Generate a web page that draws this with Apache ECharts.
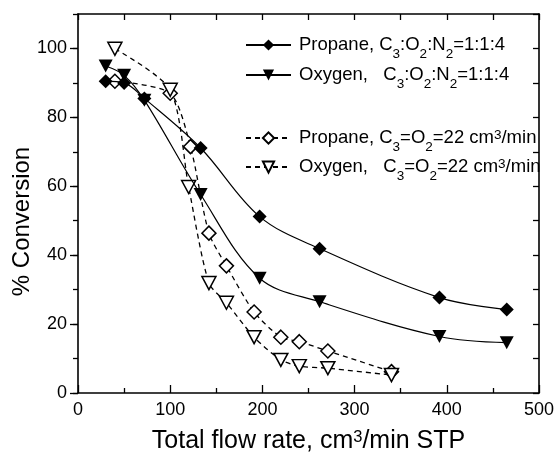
<!DOCTYPE html>
<html>
<head>
<meta charset="utf-8">
<script src="https://cdn.jsdelivr.net/npm/echarts@6/dist/echarts.min.js"></script>
<style>html,body{margin:0;padding:0;background:#fff}#c{width:558px;height:458px}</style>
</head>
<body>
<div id="c"></div>
<script>
// ---- data ----
const propaneN2X = [30, 50, 72, 133, 197, 262, 392, 465];
const propaneN2Y = [90.5, 90, 85.5, 71.1, 51.2, 41.9, 27.7, 24.2];
const oxygenN2X = [30, 50, 72, 133, 197, 262, 392, 465];
const oxygenN2Y = [94.9, 92.2, 85, 57.6, 33.3, 26.5, 16.4, 14.6];
const propane22X = [40, 100, 122, 142, 161, 191, 220, 240, 271, 340];
const propane22Y = [90.5, 87, 71.5, 46.4, 36.9, 23.5, 16.2, 14.9, 12.2, 6.2];
const oxygen22X = [40, 100, 120, 142, 161, 191, 220, 240, 271, 340];
const oxygen22Y = [99.9, 88, 59.8, 31.9, 26.2, 16.2, 9.6, 7.8, 7.2, 5.2];
const xTickLabels = [0, 100, 200, 300, 400, 500];
const yTickLabels = [0, 20, 40, 60, 80, 100];
const seriesNames = ['Propane N2', 'Oxygen N2', 'Propane 22', 'Oxygen 22'];
const legendTexts = [
  '{b0|Propane, C}{s|3}{b|:O}{s|2}{b|:N}{s|2}{b|=1:1:4}',
  '{b0|Oxygen,   C}{s|3}{b|:O}{s|2}{b|:N}{s|2}{b|=1:1:4}',
  '{b0|Propane, C}{s|3}{b|=O}{s|2}{b|=22 cm}{p|3}{b|/min}',
  '{b0|Oxygen,   C}{s|3}{b|=O}{s|2}{b|=22 cm}{p|3}{b|/min}'
];
const legendCenters = [46, 76, 139, 168];
const xTitle = '{t|Total flow rate, cm}{tp|3}{t|/min STP}';
const yTitle = '% Conversion';

const zip = (xs, ys) => xs.map((x, i) => [x, ys[i]]);
const FONT = 'Liberation Sans, Arial, sans-serif';
const chart = echarts.init(document.getElementById('c'), null, {renderer: 'canvas'});

const LH = 34;
const legendRich = {
  b0: {fontSize: 18.5, fontFamily: FONT, color: '#000', lineHeight: LH, padding: [0, 0, 0, 3]},
  b: {fontSize: 18.5, fontFamily: FONT, color: '#000', lineHeight: LH},
  s: {fontSize: 13.5, fontFamily: FONT, color: '#000', lineHeight: LH, padding: [18, 0, 0, 0]},
  p: {fontSize: 13.5, fontFamily: FONT, color: '#000', lineHeight: LH, padding: [0, 0, 6, 0]}
};
const legendFormatter = name => legendTexts[seriesNames.indexOf(name)];
const blk = '#000';

const baseY = {type: 'value', min: 0, max: 110, gridIndex: 0};
const baseX = {type: 'value', min: 0, max: 500, gridIndex: 0};

const option = {
  animation: false,
  backgroundColor: '#fff',
  grid: {left: 78, right: 19, top: 14, bottom: 65, containLabel: false, outerBoundsMode: 'none'},
  xAxis: [
    Object.assign({}, baseX, {
      position: 'bottom', interval: 100,
      axisLine: {show: true, onZero: false, lineStyle: {color: blk, width: 1.6}},
      axisTick: {show: true, inside: true, length: 8, lineStyle: {color: blk, width: 1.3}},
      minorTick: {show: true, splitNumber: 2, length: 5, lineStyle: {color: blk, width: 1.3}},
      splitLine: {show: false},
      axisLabel: {show: true, color: blk, fontSize: 18, fontFamily: FONT, margin: 8,
        formatter: v => (xTickLabels.indexOf(v) >= 0 ? String(v) : '')},
      name: xTitle, nameLocation: 'middle', nameGap: 35, nameMoveOverlap: false,
      nameTextStyle: {rich: {
        t: {fontSize: 25, fontFamily: FONT, color: blk, lineHeight: 27},
        tp: {fontSize: 16.5, fontFamily: FONT, color: blk, lineHeight: 27, padding: [0, 0, 8, 0]}
      }}
    }),
    Object.assign({}, baseX, {
      position: 'top', interval: 50,
      axisLine: {show: true, onZero: false, lineStyle: {color: blk, width: 1.6}},
      axisTick: {show: true, inside: true, length: 6, lineStyle: {color: blk, width: 1.3}},
      axisLabel: {show: false}, splitLine: {show: false}
    })
  ],
  yAxis: [
    Object.assign({}, baseY, {
      position: 'left', interval: 20,
      axisLine: {show: true, onZero: false, lineStyle: {color: blk, width: 1.6}},
      axisTick: {show: true, inside: false, length: 8, lineStyle: {color: blk, width: 1.3}},
      splitLine: {show: false},
      axisLabel: {show: true, color: blk, fontSize: 18, fontFamily: FONT, margin: 11, showMaxLabel: false,
        formatter: v => (yTickLabels.indexOf(v) >= 0 ? String(v) : '')},
      name: yTitle, nameLocation: 'middle', nameGap: 44, nameRotate: 90, nameMoveOverlap: false,
      nameTextStyle: {fontSize: 24, fontFamily: FONT, color: blk, padding: [0, 36, 0, 0]}
    }),
    Object.assign({}, baseY, {
      position: 'left', interval: 10,
      axisLine: {show: false},
      axisTick: {show: true, inside: false, length: 5, lineStyle: {color: blk, width: 1.3}},
      axisLabel: {show: false}, splitLine: {show: false}
    }),
    Object.assign({}, baseY, {
      position: 'right', interval: 10,
      axisLine: {show: true, onZero: false, lineStyle: {color: blk, width: 1.6}},
      axisTick: {show: true, inside: true, length: 6, lineStyle: {color: blk, width: 1.3}},
      axisLabel: {show: false}, splitLine: {show: false}
    })
  ],
  legend: seriesNames.map((n, i) => ({
    data: [n], orient: 'vertical', left: 245, top: legendCenters[i] - LH / 2, padding: 0,
    itemWidth: 45, itemHeight: 14, formatter: legendFormatter,
    textStyle: {rich: legendRich}, selectedMode: false
  })),
  series: [
    {
      name: seriesNames[0], type: 'line', data: zip(propaneN2X, propaneN2Y),
      symbol: 'diamond', symbolSize: 14, smooth: 0.35,
      itemStyle: {color: blk}, lineStyle: {color: blk, width: 1.2}, z: 4
    },
    {
      name: seriesNames[1], type: 'line', data: zip(oxygenN2X, oxygenN2Y),
      symbol: 'triangle', symbolRotate: 180, symbolSize: [14, 13], smooth: 0.35,
      itemStyle: {color: blk}, lineStyle: {color: blk, width: 1.2}, z: 4
    },
    {
      name: seriesNames[2], type: 'line', data: zip(propane22X, propane22Y),
      symbol: 'diamond', symbolSize: 14, smooth: 0.25,
      itemStyle: {color: '#fff', borderColor: blk, borderWidth: 1.5},
      lineStyle: {color: blk, width: 1.3, type: [5, 4]}, z: 3
    },
    {
      name: seriesNames[3], type: 'line', data: zip(oxygen22X, oxygen22Y),
      symbol: 'triangle', symbolRotate: 180, symbolSize: [14, 13], smooth: 0.25,
      itemStyle: {color: '#fff', borderColor: blk, borderWidth: 1.5},
      lineStyle: {color: blk, width: 1.3, type: [5, 4]}, z: 3
    }
  ]
};
chart.setOption(option);
</script>
</body>
</html>
